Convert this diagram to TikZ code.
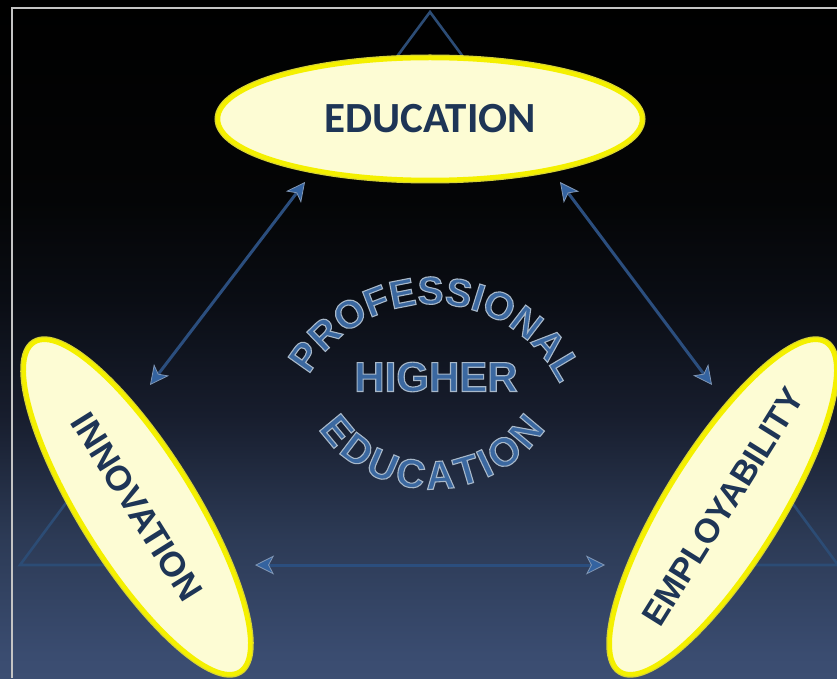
\documentclass[tikz,border=0pt]{standalone}
\usepackage{fontspec}
\newfontfamily\calib{Carlito}
\newfontfamily\lsans{Liberation Sans}
\usetikzlibrary{shapes.geometric,arrows.meta,decorations.text,calc}
\definecolor{bgA}{HTML}{3C4E72}
\definecolor{bgB}{HTML}{3A4C70}
\definecolor{bgC}{HTML}{2C3A55}
\definecolor{bgD}{HTML}{171D2D}
\definecolor{bgE}{HTML}{0A0D14}
\definecolor{bgF}{HTML}{040506}
\definecolor{framec}{HTML}{C4C4C4}
\definecolor{triline}{HTML}{2C4C75}
\definecolor{ovalrim}{HTML}{F4F000}
\definecolor{ovalglow}{HTML}{D8D430}
\definecolor{ovalfill}{HTML}{FDFCD4}
\definecolor{labelc}{HTML}{1E3556}
\definecolor{arrowin}{HTML}{2B4E7E}
\definecolor{arrowtip}{HTML}{3463A0}
\definecolor{arrowrim}{HTML}{8096B4}
\definecolor{centc}{HTML}{3B68A0}
\pgfdeclareverticalshading{bgshade}{100bp}{color(0bp)=(bgA); color(25bp)=(bgA); color(26.7bp)=(bgB); color(35.5bp)=(bgC); color(44.4bp)=(bgD); color(52.9bp)=(bgE); color(60.3bp)=(bgF); color(75bp)=(black); color(100bp)=(black)}
% fill + stroke text rendering for the outlined blue lettering
\newcommand\outlined{\special{pdf:literal direct 1.1 w 0.66 0.72 0.79 RG 2 Tr}}
\newcommand\arcfontA{\lsans\bfseries\fontsize{39pt}{39pt}\selectfont\outlined}
\newcommand\arcfontB{\lsans\bfseries\fontsize{40pt}{40pt}\selectfont\outlined}
\begin{document}
\begin{tikzpicture}[x=1pt,y=1pt,
  ovalbox/.style={ellipse, draw=ovalrim, line width=4.5pt, fill=ovalfill, inner sep=0pt,
    preaction={draw=ovalglow, line width=7pt}},
  sidelabel/.style={text=labelc, font=\lsans\bfseries\fontsize{35pt}{35pt}\selectfont},
  biarrow/.style={draw=arrowin, line width=3pt,
    {Stealth[length=19pt,width=19pt,inset=5pt,color=arrowrim,fill=arrowtip,line width=0.8pt]}-{Stealth[length=19pt,width=19pt,inset=5pt,color=arrowrim,fill=arrowtip,line width=0.8pt]}},
  triseg/.style={triline, line width=2.6pt, line join=miter},
  hitext/.style={font=\lsans\bfseries\fontsize{42pt}{42pt}\selectfont, inner sep=0pt}]
\useasboundingbox (0,0) rectangle (837,678);
\fill[shading=bgshade] (0,0) rectangle (837,678);
% frame
\draw[framec, line width=1.5pt] (12,0) -- (12,670) -- (837,670);
% triangle (only its corners show from behind the ovals)
\coordinate (tA) at (430,666);
\coordinate (tB) at (20,113);
\coordinate (tC) at (838,113);
\draw[triseg] ($(tA)!0.09!(tB)$) -- (tA) -- ($(tA)!0.09!(tC)$);
\draw[triseg] ($(tB)!0.15!(tA)$) -- (tB) -- ($(tB)!0.16!(tC)$);
\draw[triseg] ($(tC)!0.15!(tA)$) -- (tC) -- ($(tC)!0.16!(tB)$);
% arrows
\coordinate (l1) at (150,293);
\coordinate (l2) at (305,496);
\coordinate (r1) at (560,496);
\coordinate (r2) at (712,293);
\coordinate (b1) at (255,113);
\coordinate (b2) at (605,113);
\draw[biarrow] (l1) -- (l2);
\draw[biarrow] (r1) -- (r2);
\draw[biarrow] (b1) -- (b2);
% ovals
\node[ovalbox, minimum width=424pt, minimum height=122pt, text=labelc,
  font=\calib\bfseries\fontsize{43pt}{43pt}\selectfont] (edu) at (430,559) {EDUCATION};
\node[ovalbox, rotate=-58, minimum width=388pt, minimum height=112pt, sidelabel] (inn) at (137,171) {INNOVATION};
\node[ovalbox, rotate=58, minimum width=388pt, minimum height=112pt, sidelabel,
  font=\lsans\bfseries\fontsize{34pt}{34pt}\selectfont] (emp) at (723,171) {EMPLOYABILITY};
% central lettering
\node[hitext, text=centc] (higher) at (436,301) {\outlined HIGHER};
\path[decorate,decoration={text along path,text={|\arcfontA|PROFESSIONAL},text align={fit to path},text color=centc}]
  ([shift={(150:142)}]432,232) arc[start angle=150,end angle=30,radius=142];
\path[decorate,decoration={text along path,text={|\arcfontB|EDUCATION},text align={fit to path},text color=centc}]
  ([shift={(214:137)}]432,326) arc[start angle=214,end angle=326,radius=137];
\end{tikzpicture}
\end{document}
